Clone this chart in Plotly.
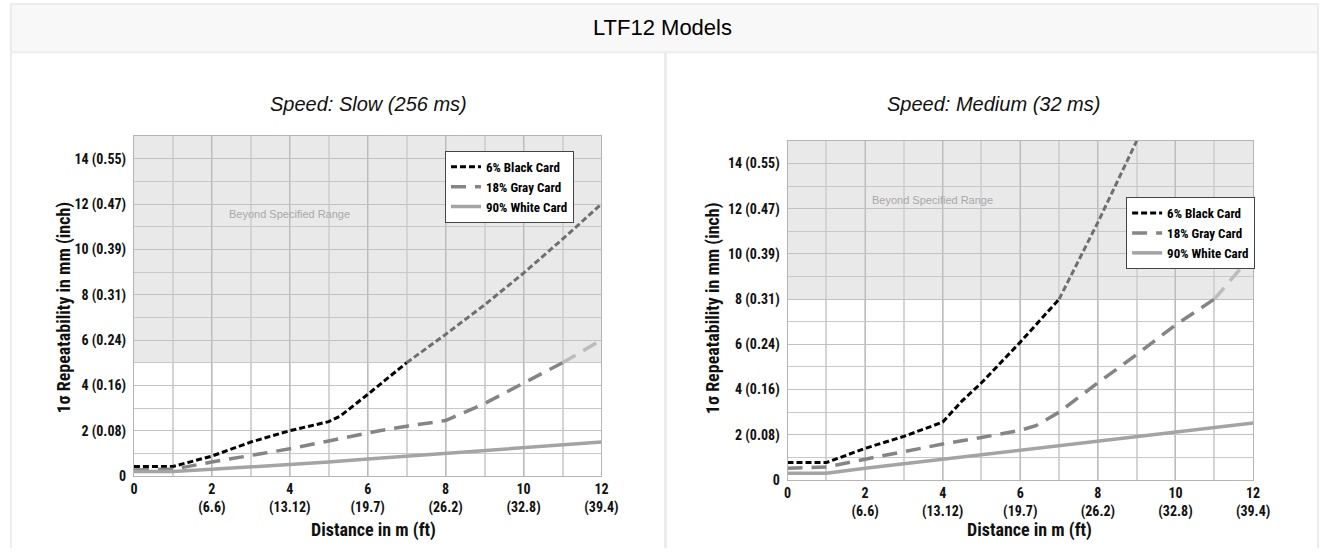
import plotly.graph_objects as go

W, H = 1338, 556

# ---------------- data ----------------
x_ticks = [0, 2, 4, 6, 8, 10, 12]
x_ticktext = ["0", "2<br>(6.6)", "4<br>(13.12)", "6<br>(19.7)", "8<br>(26.2)", "10<br>(32.8)", "12<br>(39.4)"]
y_ticks = [0, 2, 4, 6, 8, 10, 12, 14]
y_ticktext = ["0", "2 (0.08)", "4 (0.16)", "6 (0.24)", "8 (0.31)", "10 (0.39)", "12 (0.47)", "14 (0.55)"]

series_names = ["6% Black Card", "18% Gray Card", "90% White Card"]

# Slow (256 ms)
slow_black_x = [0, 1, 2, 3, 4, 5, 5.3, 6, 7]
slow_black_y = [0.42, 0.42, 0.88, 1.5, 2.0, 2.4, 2.65, 3.6, 5.0]
slow_black_bx = [7, 8, 9, 10, 11, 12]
slow_black_by = [5.0, 6.25, 7.55, 8.95, 10.45, 12.0]
slow_gray_x = [0, 1, 2, 3, 4, 5, 6, 6.3, 7, 8, 9, 10, 11]
slow_gray_y = [0.27, 0.3, 0.62, 0.9, 1.2, 1.55, 1.9, 2.0, 2.2, 2.45, 3.2, 4.1, 5.0]
slow_gray_bx = [11, 12]
slow_gray_by = [5.0, 6.0]
slow_white_x = [0, 1, 2, 3, 4, 5, 6, 7, 8, 9, 10, 11, 12]
slow_white_y = [0.2, 0.2, 0.3, 0.4, 0.5, 0.62, 0.75, 0.87, 1.0, 1.12, 1.25, 1.38, 1.5]
slow_limit = 5

# Medium (32 ms)
med_black_x = [0, 1, 2, 3, 4, 4.5, 5, 6, 7]
med_black_y = [0.77, 0.77, 1.4, 1.93, 2.56, 3.5, 4.3, 6.1, 8.0]
med_black_bx = [7, 8, 9]
med_black_by = [8.0, 11.4, 15.0]
med_gray_x = [0, 1, 2, 3, 4, 5, 6, 6.4, 7, 8, 9, 10, 11]
med_gray_y = [0.52, 0.57, 0.92, 1.25, 1.59, 1.88, 2.2, 2.4, 3.0, 4.3, 5.55, 6.86, 8.0]
med_gray_bx = [11, 12]
med_gray_by = [8.0, 10.0]
med_white_x = [0, 1, 2, 3, 4, 5, 6, 7, 8, 9, 10, 11, 12]
med_white_y = [0.3, 0.3, 0.52, 0.72, 0.93, 1.12, 1.32, 1.52, 1.73, 1.93, 2.13, 2.33, 2.52]
med_limit = 8

# ---------------- styling ----------------
NARROW = "'Liberation Sans Narrow', 'Arial Narrow', 'Roboto Condensed', 'Archivo Narrow', 'PT Sans Narrow', sans-serif"
SANS = "'Liberation Sans', Arimo, Arial, sans-serif"
C_BLACK, C_BLACK_B = "#000000", "#6f6f6f"
C_GRAY, C_GRAY_B = "#858585", "#bcbcbc"
C_WHITE = "#a4a4a4"
DASH_BLACK = "6px,3px"
DASH_GRAY = "15px,9px"


def px_x(p):
    return p / W


def px_y(p):
    return (H - p) / H


fig = go.Figure()


def add_panel(xa, ya, leg, bx, by, gx, gy, gbx, gby, wx, wy, kbx, kby):
    fig.add_trace(go.Scatter(x=bx, y=by, mode="lines", name=series_names[0], legend=leg,
                             line=dict(color=C_BLACK, width=3, dash=DASH_BLACK), xaxis=xa, yaxis=ya))
    fig.add_trace(go.Scatter(x=gx, y=gy, mode="lines", name=series_names[1], legend=leg,
                             line=dict(color=C_GRAY, width=3.5, dash=DASH_GRAY), xaxis=xa, yaxis=ya))
    fig.add_trace(go.Scatter(x=wx, y=wy, mode="lines", name=series_names[2], legend=leg,
                             line=dict(color=C_WHITE, width=3.5), xaxis=xa, yaxis=ya))
    fig.add_trace(go.Scatter(x=kbx, y=kby, mode="lines", showlegend=False, legend=leg,
                             line=dict(color=C_BLACK_B, width=3, dash=DASH_BLACK), xaxis=xa, yaxis=ya))
    fig.add_trace(go.Scatter(x=gbx, y=gby, mode="lines", showlegend=False, legend=leg,
                             line=dict(color=C_GRAY_B, width=3.5, dash=DASH_GRAY), xaxis=xa, yaxis=ya))


add_panel("x", "y", "legend", slow_black_x, slow_black_y, slow_gray_x, slow_gray_y,
          slow_gray_bx, slow_gray_by, slow_white_x, slow_white_y, slow_black_bx, slow_black_by)
add_panel("x2", "y2", "legend2", med_black_x, med_black_y, med_gray_x, med_gray_y,
          med_gray_bx, med_gray_by, med_white_x, med_white_y, med_black_bx, med_black_by)

tickfont = dict(family=NARROW, size=14, color="#111", weight="bold")


def xaxis_cfg(domain, anchor):
    return dict(domain=domain, anchor=anchor, range=[0, 12], tickmode="array",
                tickvals=x_ticks, ticktext=x_ticktext, tickfont=tickfont,
                showgrid=True, gridcolor="#bcbcbc", gridwidth=1,
                minor=dict(tickmode="linear", tick0=0, dtick=1, showgrid=True,
                           gridcolor="#d4d4d4", gridwidth=2),
                zeroline=False, showline=True, linecolor="#b5b5b5", mirror=True,
                ticks="", fixedrange=True)


def yaxis_cfg(domain, anchor):
    return dict(domain=domain, anchor=anchor, range=[0, 15], tickmode="array",
                tickvals=y_ticks, ticktext=y_ticktext, tickfont=tickfont,
                showgrid=True, gridcolor="#c2c2c2", gridwidth=1,
                minor=dict(tickmode="linear", tick0=0, dtick=1, showgrid=True,
                           gridcolor="#c8c8c8", gridwidth=1),
                zeroline=False, showline=True, linecolor="#b5b5b5", mirror=True,
                ticks="", ticklabelstandoff=4, fixedrange=True)


legend_common = dict(bgcolor="white", bordercolor="#444", borderwidth=1,
                     font=dict(family=NARROW, size=13, color="#000", weight="bold"),
                     xanchor="left", yanchor="top", itemwidth=30, tracegroupgap=0,
                     traceorder="normal")

fig.update_layout(
    width=W, height=H,
    margin=dict(l=0, r=0, t=0, b=0),
    paper_bgcolor="white", plot_bgcolor="white",
    showlegend=True,
    xaxis=xaxis_cfg([px_x(132), px_x(607)], "y"),
    yaxis=yaxis_cfg([px_y(483), px_y(138)], "x"),
    xaxis2=xaxis_cfg([px_x(796), px_x(1269)], "y2"),
    yaxis2=yaxis_cfg([px_y(487), px_y(143)], "x2"),
    legend=dict(x=px_x(448), y=px_y(153), **legend_common),
    legend2=dict(x=px_x(1140), y=px_y(200), **legend_common),
)

BORDER = "#ececec"
shapes = [
    # page border (left, right)
    dict(type="line", xref="paper", yref="paper", x0=px_x(7), x1=px_x(7), y0=0, y1=px_y(4),
         line=dict(color=BORDER, width=2), layer="below"),
    dict(type="line", xref="paper", yref="paper", x0=px_x(1335), x1=px_x(1335), y0=0, y1=px_y(4),
         line=dict(color=BORDER, width=2), layer="below"),
    # header band
    dict(type="rect", xref="paper", yref="paper", x0=px_x(7), x1=px_x(1335), y0=px_y(53), y1=px_y(4),
         line=dict(color=BORDER, width=2), fillcolor="#f8f8f8", layer="below"),
    # divider
    dict(type="line", xref="paper", yref="paper", x0=px_x(672), x1=px_x(672), y0=0, y1=px_y(53),
         line=dict(color=BORDER, width=3), layer="below"),
    # beyond specified range shading
    dict(type="rect", xref="x", yref="y", x0=0, x1=12, y0=slow_limit, y1=15,
         fillcolor="#e9e9e9", line=dict(width=0), layer="below"),
    dict(type="rect", xref="x2", yref="y2", x0=0, x1=12, y0=med_limit, y1=15,
         fillcolor="#e9e9e9", line=dict(width=0), layer="below"),
]
fig.update_layout(shapes=shapes)

title_font = dict(family=NARROW, size=18, color="#111", weight="bold")
sub_font = dict(family=SANS, size=20, color="#111")
annotations = [
    dict(text="LTF12 Models", xref="paper", yref="paper", x=px_x(669), y=px_y(28), showarrow=False,
         font=dict(family=SANS, size=22, color="#000"), xanchor="center", yanchor="middle"),
    dict(text="<i>Speed: Slow (256 ms)</i>", xref="paper", yref="paper", x=px_x(370), y=px_y(106),
         showarrow=False, font=sub_font, xanchor="center", yanchor="middle"),
    dict(text="<i>Speed: Medium (32 ms)</i>", xref="paper", yref="paper", x=px_x(1005), y=px_y(106),
         showarrow=False, font=sub_font, xanchor="center", yanchor="middle"),
    dict(text="1σ Repeatability in mm (inch)", xref="paper", yref="paper", x=px_x(60), y=px_y(312),
         textangle=-90, showarrow=False, font=title_font, xanchor="center", yanchor="middle"),
    dict(text="1σ Repeatability in mm (inch)", xref="paper", yref="paper", x=px_x(721), y=px_y(313),
         textangle=-90, showarrow=False, font=title_font, xanchor="center", yanchor="middle"),
    dict(text="Distance in m (ft)", xref="paper", yref="paper", x=px_x(375), y=px_y(538),
         showarrow=False, font=title_font, xanchor="center", yanchor="middle"),
    dict(text="Distance in m (ft)", xref="paper", yref="paper", x=px_x(1042), y=px_y(538),
         showarrow=False, font=title_font, xanchor="center", yanchor="middle"),
    dict(text="Beyond Specified Range", xref="x", yref="y", x=4.0, y=11.55, showarrow=False,
         font=dict(family=SANS, size=11, color="#a8a8a8"), xanchor="center", yanchor="middle"),
    dict(text="Beyond Specified Range", xref="x2", yref="y2", x=3.73, y=12.4, showarrow=False,
         font=dict(family=SANS, size=11, color="#a8a8a8"), xanchor="center", yanchor="middle"),
]
fig.update_layout(annotations=annotations)

fig.write_html("out.html", config={"displayModeBar": False},
               post_script="document.body.style.margin='0';document.body.style.overflow='hidden';")
